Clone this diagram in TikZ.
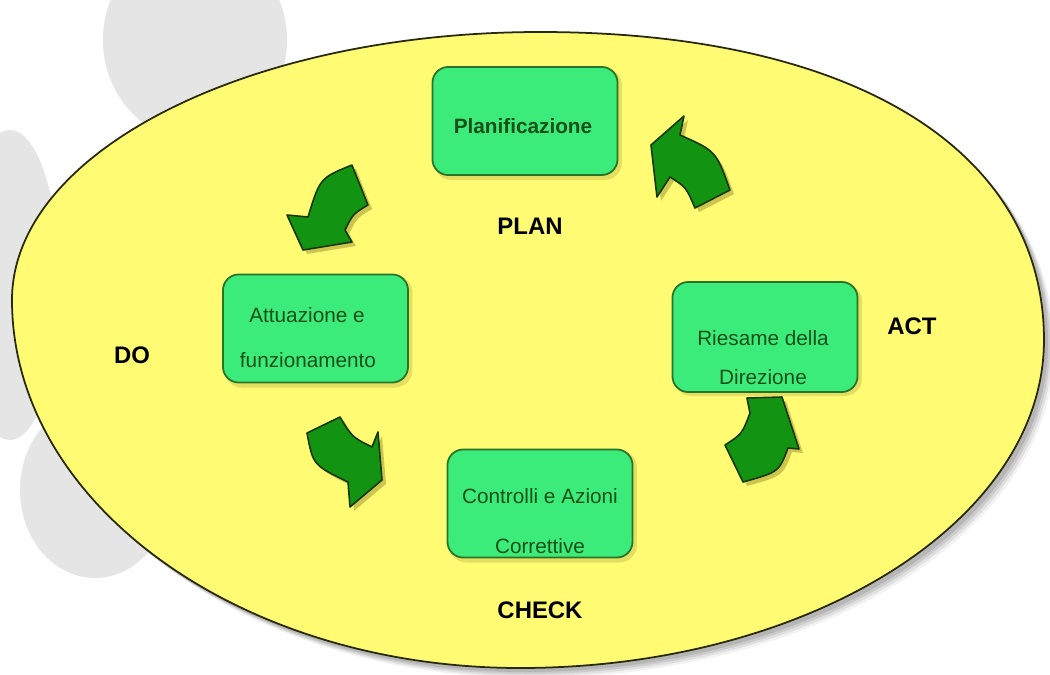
\documentclass[tikz,border=0pt]{standalone}
\usepackage{fontspec}
\setmainfont{Liberation Sans}
\definecolor{petal}{RGB}{229,229,229}
\definecolor{yel}{RGB}{255,251,114}
\definecolor{yelline}{RGB}{40,40,10}
\definecolor{boxfill}{RGB}{60,236,122}
\definecolor{boxline}{RGB}{40,115,40}
\definecolor{boxtxt}{RGB}{25,80,25}
\definecolor{arrowfill}{RGB}{18,148,18}
\definecolor{arrowline}{RGB}{25,55,5}
\definecolor{olive}{RGB}{110,100,20}
\begin{document}
\begin{tikzpicture}[x=0.01cm,y=-0.01cm,
  box/.style={draw=boxline, line width=0.5pt, fill=boxfill, rounded corners=4.5pt,
    minimum width=1.85cm, minimum height=1.08cm, inner sep=0pt},
  boxtext/.style={text=boxtxt, font=\fontsize{5.9}{7}\selectfont, inner sep=0pt},
  phase/.style={font=\bfseries\fontsize{6.8}{8}\selectfont, inner sep=0pt},
  cyc/.style={fill=arrowfill, draw=arrowline, line width=0.45pt, line join=round},
  cycshadow/.style={fill=olive, opacity=0.35, shift={(4,4)}},
  ovalpath/.style={insert path={(1044,340) .. controls (1044,149) and (852,32) .. (540,32)
     .. controls (248,32) and (12,152) .. (12,300)
     .. controls (12,503) and (239,668) .. (520,668)
     .. controls (809,668) and (1044,521) .. (1044,340) -- cycle}},
  arrA/.style={insert path={(352,165) .. controls (320,178) .. (308,217) -- (287,215) -- (303,250) -- (352,242) -- (345,230) .. controls (353,214) .. (368,205) -- cycle}},
  arrB/.style={insert path={(684,116) -- (651,145) -- (657,197) -- (670,177) .. controls (686,187) .. (695,208) -- (730,190) .. controls (716,151) .. (680,135) -- cycle}},
  arrC/.style={insert path={(307,433) -- (340,417) .. controls (352,437) .. (372,447) -- (378,432) -- (382,480) -- (350,507) -- (348,482) .. controls (313,465) .. (307,433) -- cycle}},
  arrD/.style={insert path={(725,445) .. controls (742,434) .. (750,413) -- (747,398) -- (782,397) -- (799,449) -- (788,448) .. controls (779,472) .. (743,482) -- cycle}},
]
\useasboundingbox (0,0) rectangle (1050,675);
\fill[white] (0,0) rectangle (1050,675);
% background petals
\fill[petal] (195,40) ellipse [x radius=92, y radius=100];
\fill[petal] (10,285) ellipse [x radius=50, y radius=155];
\fill[petal] (95,490) ellipse [x radius=75, y radius=88];
% oval shadow
\foreach \o/\op in {10/0.05,8/0.07,6/0.09,4/0.1} {
  \fill[black, opacity=\op, shift={(\o,\o)}, ovalpath];
}
\path[fill=yel, draw=yelline, line width=0.5pt, ovalpath];
% box shadows
\foreach \p in {(525,121),(315.5,328.5),(765,337),(540,503.5)} {
  \fill[olive, opacity=0.18, rounded corners=5pt, shift={(3,3)}] \p +(-94,-56) rectangle +(94,56);
}
% boxes
\node[box] (plan) at (525,121) {};
\node[box] (do) at (315.5,328.5) {};
\node[box, minimum height=1.1cm] (act) at (765,337) {};
\node[box] (check) at (540,503.5) {};
% box texts
\node[boxtext, font=\bfseries\fontsize{5.9}{7}\selectfont] (plant) at (523,126) {Planificazione};
\node[boxtext] (dot1) at (307,315) {Attuazione e};
\node[boxtext] (dot2) at (308,360) {funzionamento};
\node[boxtext] (act1) at (763,338) {Riesame della};
\node[boxtext] (act2) at (763,377) {Direzione};
\node[boxtext] (check1) at (540,496) {Controlli e Azioni};
\node[boxtext] (check2) at (540,546) {Correttive};
% phase labels
\node[phase] (plabel) at (530,226) {PLAN};
\node[phase] (dlabel) at (132,355) {DO};
\node[phase] (alabel) at (912,326) {ACT};
\node[phase] (clabel) at (540,610) {CHECK};
% cycle arrows
\fill[cycshadow, arrA]; \path[cyc, arrA];
\fill[cycshadow, arrB]; \path[cyc, arrB];
\fill[cycshadow, arrC]; \path[cyc, arrC];
\fill[cycshadow, arrD]; \path[cyc, arrD];
\end{tikzpicture}
\end{document}
